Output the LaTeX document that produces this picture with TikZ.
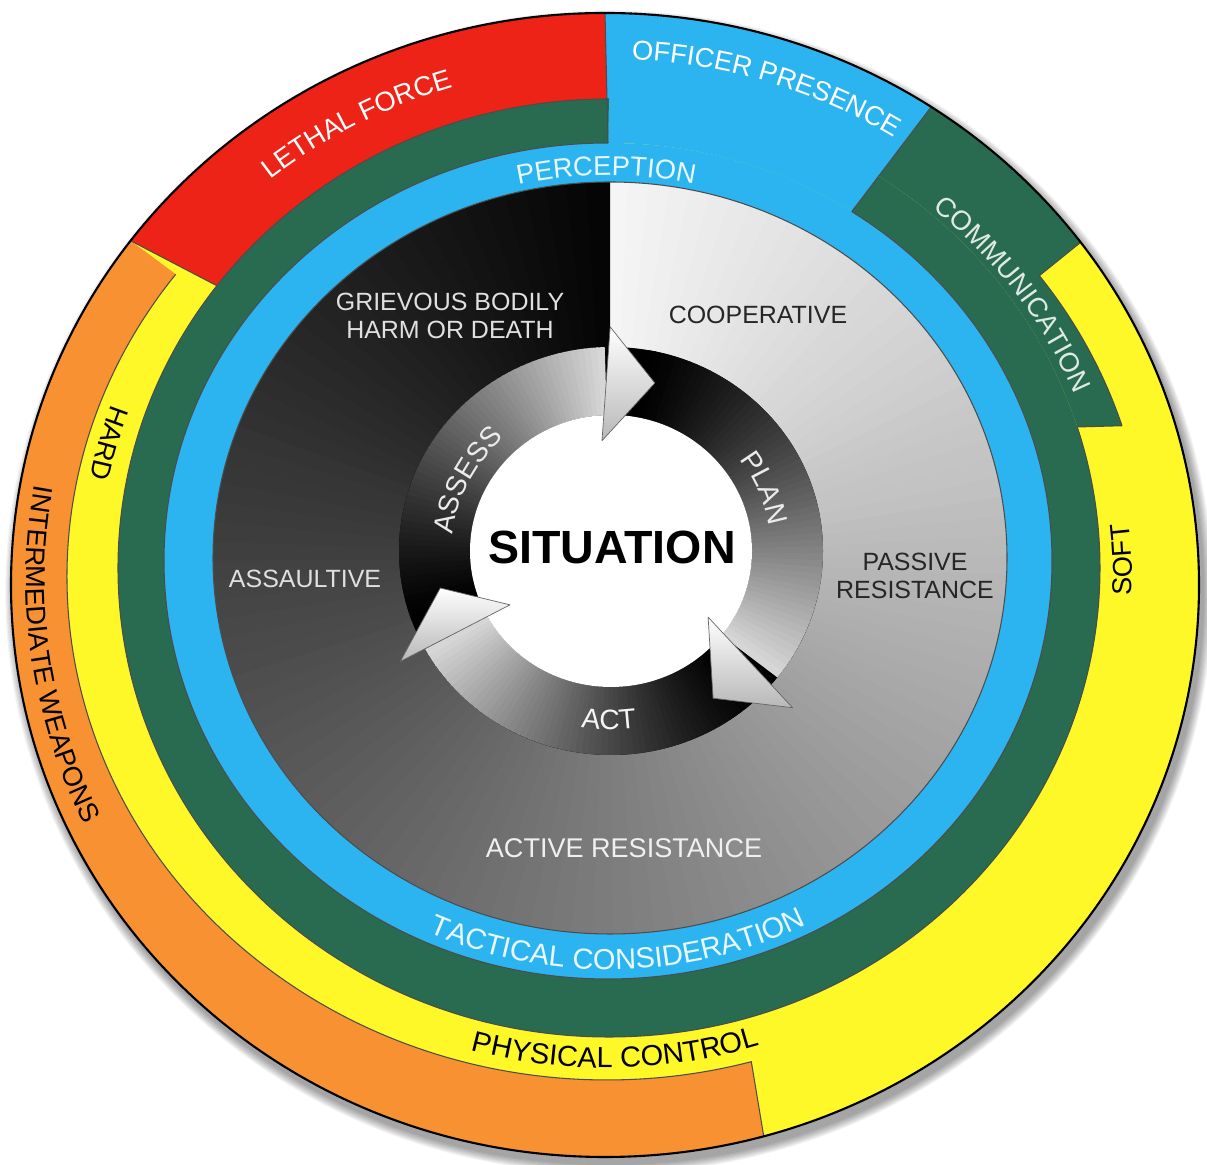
\documentclass[tikz,border=0pt]{standalone}
\usepackage{fontspec}
\setmainfont{Liberation Sans}
\usetikzlibrary{decorations.text}

\definecolor{forcered}{RGB}{238,35,24}
\definecolor{weaponorange}{RGB}{247,145,50}
\definecolor{controlyellow}{RGB}{255,248,40}
\definecolor{talkgreen}{RGB}{40,107,80}
\definecolor{presenceblue}{RGB}{44,180,240}

\newcommand{\ringfont}{\fontsize{15.5}{18}\selectfont}
\newcommand{\widefont}{\fontsize{16.5}{19}\selectfont}
\newcommand{\zonefont}{\fontsize{14.2}{16.2}\selectfont}
\newcommand{\cyclefont}{\fontsize{16}{19}\selectfont}

\begin{document}
\begin{tikzpicture}[x=0.02cm, y=0.02cm, line join=round]
	\tikzstyle{seam}=[draw=black!70, line width=0.6pt]
	\tikzstyle{zone}=[font=\zonefont, align=center, inner sep=1pt]
	\tikzstyle{headarrow}=[top color=white, bottom color=black!28, draw=black!60, line width=0.4pt]

	\fill[white] (0,0) rectangle (1207,1165);
	\useasboundingbox (0,0) rectangle (1207,1165);

	% soft shadow under the disc
	\foreach \k in {1,...,8}
		\fill[black, opacity=0.05] (609,573) ellipse [x radius={594+1.2*\k}, y radius={572+1.2*\k}];

	% outer bands
	\fill[controlyellow] (605,580) ellipse [x radius=594, y radius=572];
	\fill[weaponorange] ([shift={(605,580)}]143:594 and 572) arc[start angle=143, end angle=285.5, x radius=594, y radius=572]
		-- ([shift={(607,588)}]285.5:540 and 503) arc[start angle=285.5, end angle=143, x radius=540, y radius=503] -- cycle;
	\fill[forcered] ([shift={(605,580)}]90:594 and 572) arc[start angle=90, end angle=143, x radius=594, y radius=572]
		-- ([shift={(609,597)}]143:491 and 469) arc[start angle=143, end angle=90, x radius=491, y radius=469] -- cycle;
	\fill[talkgreen] ([shift={(605,580)}]56.7:594 and 572) arc[start angle=56.7, end angle=36.8, x radius=594, y radius=572]
		-- ([shift={(607,588)}]36.8:540 and 503) arc[start angle=36.8, end angle=17.5, x radius=540, y radius=503]
		-- ([shift={(609,597)}]17.5:491 and 469) arc[start angle=17.5, end angle=56.7, x radius=491, y radius=469] -- cycle;
	\fill[presenceblue] ([shift={(605,580)}]56.7:594 and 572) arc[start angle=56.7, end angle=90, x radius=594, y radius=572]
		-- ([shift={(608,604)}]90:444 and 418) arc[start angle=90, end angle=56.7, x radius=444, y radius=418] -- cycle;
	\fill[talkgreen] ([shift={(609,597)}]90:491 and 469) arc[start angle=90, end angle=416.7, x radius=491, y radius=469]
		-- ([shift={(608,604)}]416.7:444 and 418) arc[start angle=416.7, end angle=90, x radius=444, y radius=418] -- cycle;
	\fill[presenceblue] (608,604) ellipse [x radius=444, y radius=418];

	% seams between bands
	\draw[seam] ([shift={(607,588)}]143:540 and 503) arc[start angle=143, end angle=285.5, x radius=540, y radius=503] -- ([shift={(605,580)}]285.5:594 and 572);
	\draw[seam] ([shift={(605,580)}]143:594 and 572) -- ([shift={(609,597)}]143:491 and 469);
	\draw[seam] ([shift={(605,580)}]90:594 and 572) -- ([shift={(608,604)}]90:444 and 418);
	\draw[seam] ([shift={(605,580)}]56.7:594 and 572) -- ([shift={(608,604)}]56.7:444 and 418);
	\draw[seam] ([shift={(605,580)}]36.8:594 and 572) -- ([shift={(607,588)}]36.8:540 and 503)
		arc[start angle=36.8, end angle=17.5, x radius=540, y radius=503] -- ([shift={(609,597)}]17.5:491 and 469);
	\draw[seam] ([shift={(609,597)}]90:491 and 469) arc[start angle=90, end angle=377.5, x radius=491, y radius=469];
	\draw[seam] ([shift={(608,604)}]90:444 and 418) arc[start angle=90, end angle=416.7, x radius=444, y radius=418];

	% inner disc, white to black clockwise
	\foreach \i in {0,...,119} {
		\pgfmathsetmacro\a{90-3*\i+0.4}
		\pgfmathsetmacro\b{90-3*\i-3}
		\pgfmathsetmacro\p{4+94*\i/119}
		\fill[black!\p] (610,607) -- ([shift={(610,607)}]\a:397 and 376) arc[start angle=\a, end angle=\b, x radius=397, y radius=376] -- cycle;
	}
	\draw[seam] (610,607) ellipse [x radius=397, y radius=376];
	\draw[black, line width=1.2pt] (605,580) ellipse [x radius=594, y radius=572];

	% assess - plan - act cycle
	\fill[black] (611,614) ellipse [x radius=212, y radius=204];
	\foreach \tail/\back in {200/92, 80/-38, -45/-151} {
		\foreach \k in {0,...,59} {
			\pgfmathsetmacro\a{\tail-(\tail-\back)*\k/60}
			\pgfmathsetmacro\b{\tail-(\tail-\back)*(\k+1)/60-0.3}
			\pgfmathsetmacro\p{100-85*((\k+0.5)/60)^1.3}
			\fill[black!\p] ([shift={(611,614)}]\a:212 and 204) arc[start angle=\a, end angle=\b, x radius=212, y radius=204]
				-- ([shift={(611,614)}]\b:141 and 136) arc[start angle=\b, end angle=\a, x radius=141, y radius=136] -- cycle;
		}
	}
	\fill[white] (611,614) ellipse [x radius=141, y radius=136];
	\shadedraw[headarrow] ([shift={(611,614)}]94.5:115 and 110.6) -- ([shift={(611,614)}]90.2:233 and 224.1) -- ([shift={(611,614)}]75.9:180 and 173.2) -- cycle;
	\shadedraw[headarrow] ([shift={(611,614)}]-35.3:119 and 114.5) -- ([shift={(611,614)}]-41.9:244 and 234.7) -- ([shift={(611,614)}]-56.3:184 and 177) -- cycle;
	\shadedraw[headarrow] ([shift={(611,614)}]209:115.5 and 111.1) -- ([shift={(611,614)}]208.6:240 and 230.9) -- ([shift={(611,614)}]192.7:175 and 168.4) -- cycle;

	% zone labels
	\node[zone, text=black!12] (grievous) at (450,849) {GRIEVOUS BODILY\\HARM OR DEATH};
	\node[zone, text=black!85] (cooperative) at (758,850) {COOPERATIVE};
	\node[zone, text=black!85] (passive) at (915,589) {PASSIVE\\RESISTANCE};
	\node[zone, text=black!12] (assaultive) at (305,586) {ASSAULTIVE};
	\node[zone, font=\fontsize{15.4}{18}\selectfont, text=black!6] (active) at (624,317) {ACTIVE RESISTANCE};
	\node[font=\fontsize{26.5}{31}\selectfont\bfseries, inner sep=1pt] (situation) at (612,618) {SITUATION};

	% curved labels
	\path[decorate, decoration={text along path, text align=center, text={|\ringfont\color{white}|LETHAL FORCE}}]
		([shift={(607,585)}]148:536 and 514.6) arc[start angle=148, end angle=88, x radius=536, y radius=514.6];
	\path[decorate, decoration={text along path, text align=center, text={|\ringfont\color{white}|OFFICER PRESENCE}}]
		([shift={(607,585)}]102.6:543 and 521.3) arc[start angle=102.6, end angle=42.6, x radius=543, y radius=521.3];
	\path[decorate, decoration={text along path, text align=center, text={|\ringfont\color{white!85!talkgreen}|COMMUNICATION}}]
		([shift={(607,585)}]66:506 and 485.8) arc[start angle=66, end angle=6, x radius=506, y radius=485.8];
	\path[decorate, decoration={text along path, text align=center, text={|\ringfont\color{black}|SOFT}}]
		([shift={(607,585)}]-27.7:525 and 504) arc[start angle=-27.7, end angle=32.3, x radius=525, y radius=504];
	\path[decorate, decoration={text along path, text align=center, text={|\ringfont\color{black}|HARD}}]
		([shift={(607,585)}]134.2:528 and 506.9) arc[start angle=134.2, end angle=194.2, x radius=528, y radius=506.9];
	\path[decorate, decoration={text along path, text align=center, text={|\ringfont\color{black}|INTERMEDIATE WEAPONS}}]
		([shift={(607,585)}]153:581 and 557.8) arc[start angle=153, end angle=223, x radius=581, y radius=557.8];
	\path[decorate, decoration={text along path, text align=center, text={|\widefont\color{black}|PHYSICAL CONTROL}}]
		([shift={(607,585)}]-119:508.4 and 488) arc[start angle=-119, end angle=-59, x radius=508.4, y radius=488];
	\path[decorate, decoration={text along path, text align=center, text={|\ringfont\color{white!90!presenceblue}|PERCEPTION}}]
		([shift={(609,605)}]120.4:407 and 384.6) arc[start angle=120.4, end angle=60.4, x radius=407, y radius=384.6];
	\path[decorate, decoration={text along path, text align=center, text={|\widefont\color{white!90!presenceblue}|TACTICAL CONSIDERATION}}]
		([shift={(609,605)}]-133.7:433.4 and 409.6) arc[start angle=-133.7, end angle=-43.7, x radius=433.4, y radius=409.6];
	\path[decorate, decoration={text along path, text align=center, text={|\cyclefont\color{black!8}|ASSESS}}]
		([shift={(611,614)}]193.3:159 and 153) arc[start angle=193.3, end angle=113.3, x radius=159, y radius=153];
	\path[decorate, decoration={text along path, text align=center, text={|\cyclefont\color{black!8}|PLAN}}]
		([shift={(611,614)}]62.6:160 and 154) arc[start angle=62.6, end angle=-17.4, x radius=160, y radius=154];
	\path[decorate, decoration={text along path, text align=center, text={|\cyclefont\color{black!4}|ACT}}]
		([shift={(611,614)}]-130.7:186 and 179) arc[start angle=-130.7, end angle=-50.7, x radius=186, y radius=179];
\end{tikzpicture}
\end{document}
